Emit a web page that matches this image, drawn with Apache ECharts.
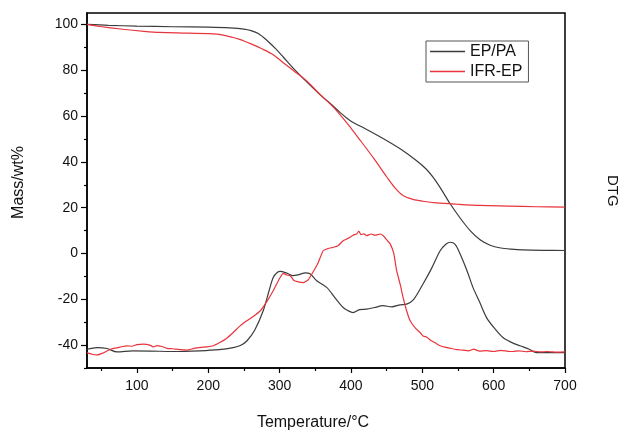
<!DOCTYPE html>
<html><head><meta charset="utf-8">
<script src="https://cdn.jsdelivr.net/npm/echarts@6/dist/echarts.min.js"></script>
<style>html,body{margin:0;padding:0;background:#fff}#c{width:623px;height:431px}</style>
</head><body><div id="c"></div>
<script>
// Mass (TG) curves
const tMassEP = [30,60,100,150,200,230,250,260,270,282,295,305,320,338,355,371,385,399,420,445,470,492,505,515,527,539,553,567,581,595,610,625,641,670,700];
const massEP  = [100,99.6,99.3,99.0,98.8,98.5,98.0,97.3,96.0,93.1,89.2,85.8,80.6,74.9,69.8,65.5,61.5,58.0,54.5,50.2,45.5,40.5,37.0,33.3,27.8,21.7,15.5,10.0,6.0,3.6,2.4,1.9,1.6,1.4,1.3];
const tMassIFR = [30,48,80,110,132,170,212,235,244,260,275,291,305,320,338,357,375,395,413,432,450,462,473,487,501,520,550,581,620,660,700];
const massIFR   = [100,99.1,97.9,97.0,96.5,96.2,95.8,94.3,93.5,91.5,89.4,86.8,83.3,79.7,75.3,69.3,64.0,56.7,49.4,41.5,33.5,28.5,25.3,23.6,22.8,22.1,21.5,21.0,20.7,20.4,20.2];
// DTG curves (same scale)
const tDtgEP = [30,44,58,72,94,120,150,188,215,235,245,254,265,277,285,291,297,301,310,319,327,336,343,352,366,378,389,396,403,412,422,433,445,457,469,478,488,501,513,525,533,539,546,553,562,571,580,590,602,613,625,637,650,660,680,700];
const dtgEP  = [-41.8,-41.1,-41.5,-43.0,-42.5,-42.6,-42.8,-42.5,-42.0,-41.1,-40.2,-38.2,-33.5,-25.0,-16.5,-10.5,-8.2,-7.8,-8.6,-9.7,-9.2,-8.5,-9.0,-11.9,-14.8,-19.5,-23.6,-25.0,-25.8,-24.5,-24.3,-23.6,-22.8,-23.3,-22.4,-22.1,-20.0,-13.3,-6.5,1.2,4.0,4.9,4.0,-0.2,-7.0,-14.8,-21.0,-28.0,-33.0,-36.7,-38.8,-40.3,-41.8,-43.3,-43.3,-43.3];
const tDtgIFR = [30,37,44,52,63,72,80,86,93,100,109,118,123,128,135,142,150,160,170,180,190,198,207,216,225,235,245,254,263,273,282,291,298,305,310,315,320,325,333,340,347,354,361,368,375,382,389,396,403,408,411,414,418,422,428,434,441,446,451,455,460,464,469,473,478,483,490,497,501,506,512,518,525,533,541,549,557,565,572,580,590,600,610,620,627,635,645,655,665,675,690,700];
const dtgIFR  = [-43.3,-44.0,-44.3,-43.5,-41.8,-41.2,-40.6,-40.3,-40.5,-39.8,-39.6,-40.0,-40.8,-40.2,-40.6,-41.4,-41.6,-42.0,-42.2,-41.4,-41.0,-40.8,-40.3,-38.9,-37.2,-34.5,-31.5,-29.4,-27.5,-25.0,-21.0,-16.3,-12.0,-8.7,-9.4,-9.7,-11.8,-12.3,-12.7,-11.5,-8.0,-4.0,1.2,2.2,2.7,3.4,5.6,6.6,8.0,8.5,9.8,8.2,8.6,7.8,8.5,8.0,8.5,7.5,5.6,4.2,0.0,-7.5,-13.5,-19.2,-25.0,-29.4,-32.5,-34.5,-36.0,-36.5,-38.0,-39.0,-40.3,-41.0,-41.5,-42.0,-42.2,-42.5,-41.8,-42.6,-42.4,-42.8,-42.3,-42.7,-42.8,-42.5,-42.9,-42.6,-43.0,-42.8,-43.1,-43.0];
// ticks
const xMajor = [100,200,300,400,500,600,700];
const xMinor = [50,150,250,350,450,550,650];
const yMajor = [-40,-20,0,20,40,60,80,100];
const yMinor = [-50,-30,-10,10,30,50,70,90];
const seriesNames = ['EP/PA','IFR-EP'];

const zip = (a,b) => a.map((v,i)=>[v,b[i]]);
const BLACK = '#3c3c3c', RED = '#e8343c';
const FONT = 'Liberation Sans, Arial, sans-serif';

const chart = echarts.init(document.getElementById('c'), null, {renderer:'canvas'});
const axLine = {show:true, onZero:false, lineStyle:{color:'#000', width:1.5}};
chart.setOption({
  animation:false,
  grid:{left:87, right:58, top:13, bottom:63, containLabel:false, outerBoundsMode:'none', show:true, borderColor:'#000', borderWidth:1.5, backgroundColor:'transparent'},
  legend:{
    data:seriesNames, left:426, top:41, orient:'vertical', icon:'rect',
    borderColor:'#555', borderWidth:1, borderRadius:0,
    padding:[2,6,2,4], itemGap:3, itemWidth:35, itemHeight:1.3,
    textStyle:{fontFamily:FONT, fontSize:16, lineHeight:17, color:'#111'}
  },
  xAxis:[{
    type:'value', min:30, max:700, position:'bottom',
    name:'Temperature/°C', nameLocation:'middle', nameGap:47,
    nameTextStyle:{fontFamily:FONT, fontSize:16, color:'#111', padding:[0,26,0,0]},
    axisLine:axLine,
    axisTick:{show:true, inside:false, length:5, customValues:xMajor, lineStyle:{color:'#000', width:1.2}},
    axisLabel:{show:true, customValues:xMajor, margin:11, fontFamily:FONT, fontSize:14, color:'#111'},
    splitLine:{show:false}
  },{
    type:'value', min:30, max:700, position:'bottom',
    axisLine:{show:false, onZero:false},
    axisTick:{show:true, inside:false, length:3, customValues:xMinor, lineStyle:{color:'#000', width:1.2}},
    axisLabel:{show:false}, splitLine:{show:false}
  }],
  yAxis:[{
    type:'value', min:-50, max:105, position:'left',
    name:'Mass/wt%', nameLocation:'middle', nameGap:60, nameRotate:90,
    nameTextStyle:{fontFamily:FONT, fontSize:16, color:'#111', padding:[0,0,0,16]},
    axisLine:axLine,
    axisTick:{show:true, inside:false, length:6, customValues:yMajor, lineStyle:{color:'#000', width:1.2}},
    axisLabel:{show:true, customValues:yMajor, margin:9, fontFamily:FONT, fontSize:14, color:'#111'},
    splitLine:{show:false}
  },{
    type:'value', min:-50, max:105, position:'left',
    axisLine:{show:false, onZero:false},
    axisTick:{show:true, inside:false, length:3, customValues:yMinor, lineStyle:{color:'#000', width:1.2}},
    axisLabel:{show:false}, splitLine:{show:false}
  }],
  graphic:[{
    type:'text', left:605, top:175, rotation:-Math.PI/2,
    style:{text:'DTG', font:'15px Liberation Sans, Arial, sans-serif', fill:'#111'}
  }],
  series:[
    {name:seriesNames[0], type:'line', data:zip(tMassEP,massEP), showSymbol:false, symbol:'none', smooth:0.3, lineStyle:{color:BLACK,width:1.2}, itemStyle:{color:BLACK}},
    {name:seriesNames[1], type:'line', data:zip(tMassIFR,massIFR), showSymbol:false, symbol:'none', smooth:0.3, lineStyle:{color:RED,width:1.2}, itemStyle:{color:RED}},
    {name:seriesNames[0], type:'line', data:zip(tDtgEP,dtgEP), showSymbol:false, symbol:'none', smooth:0.3, lineStyle:{color:BLACK,width:1.2}, itemStyle:{color:BLACK}},
    {name:seriesNames[1], type:'line', data:zip(tDtgIFR,dtgIFR), showSymbol:false, symbol:'none', smooth:0.15, lineStyle:{color:RED,width:1.2}, itemStyle:{color:RED}}
  ]
});
</script></body></html>
